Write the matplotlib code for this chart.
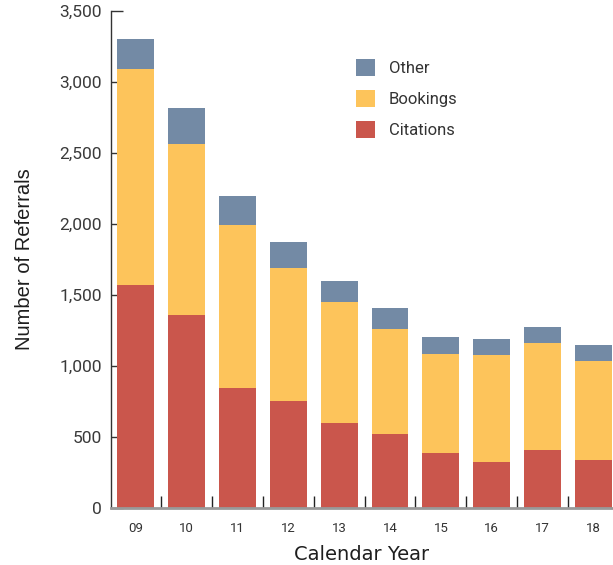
import matplotlib
matplotlib.use("Agg")
import matplotlib.pyplot as plt
from matplotlib.ticker import FuncFormatter, FixedLocator
import numpy as np

years = ["09", "10", "11", "12", "13", "14", "15", "16", "17", "18"]
citations = [1570, 1360, 845, 753, 598, 519, 386, 323, 407, 337]
bookings = [1520, 1205, 1150, 940, 852, 742, 699, 754, 755, 698]
other = [210, 255, 205, 182, 150, 144, 120, 113, 112, 112]

series = [("Citations", citations, "#CA564C"),
          ("Bookings", bookings, "#FDC45B"),
          ("Other", other, "#738AA5")]

W, H = 613, 565
fig = plt.figure(figsize=(W / 100, H / 100), dpi=100)
ax = fig.add_axes([111 / W, (H - 508) / H, (W - 111) / W, 497 / H])

x = np.arange(len(years))
bottom = np.zeros(len(years))
handles = {}
for name, vals, color in series:
    b = ax.bar(x, vals, width=0.725, bottom=bottom, color=color, linewidth=0)
    handles[name] = b
    bottom += np.array(vals)

ax.set_xlim(-0.48, 9.38)
ax.set_ylim(0, 3500)
ax.set_axisbelow(True)

for s in ["top", "right"]:
    ax.spines[s].set_visible(False)
ax.spines["left"].set_color("#333333")
ax.spines["left"].set_linewidth(1.0)
ax.spines["bottom"].set_color("#999999")
ax.spines["bottom"].set_linewidth(2.0)

ax.set_yticks(np.arange(0, 3501, 500))
ax.yaxis.set_major_formatter(FuncFormatter(lambda v, p: f"{int(v):,}"))
ax.tick_params(axis="y", direction="in", length=8.6, width=1.0, color="#333333",
               labelsize=12.5, labelcolor="#3a3a3a", pad=6.5)
for lbl in ax.get_yticklabels():
    lbl.set_family("Roboto")

ax.set_xticks(x)
ax.set_xticklabels(years, family="Roboto")
ax.tick_params(axis="x", which="major", length=0, labelsize=9.5,
               labelcolor="#333333", pad=10)
ax.xaxis.set_minor_locator(FixedLocator(np.arange(0.5, 9, 1.0)))
ax.tick_params(axis="x", which="minor", direction="in", length=8.6,
               width=1.0, color="#222222")

ax.set_ylabel("Number of Referrals", family="Liberation Sans", fontsize=14.5,
              color="#1e1e1e", labelpad=18)
ax.set_xlabel("Calendar Year", family="DejaVu Sans", fontsize=14,
              color="#1e1e1e", labelpad=7.5)

order = ["Other", "Bookings", "Citations"]
leg = ax.legend([handles[n] for n in order], order, loc="upper left",
                bbox_to_anchor=((341 - 111) / (W - 111), 1 - (44 - 11) / 497),
                frameon=False, handlelength=1.15, handleheight=1.15,
                labelspacing=0.85, handletextpad=0.8,
                prop={"family": "Roboto", "size": 12})
for t in leg.get_texts():
    t.set_color("#333333")

fig.savefig("out.png", dpi=100)
